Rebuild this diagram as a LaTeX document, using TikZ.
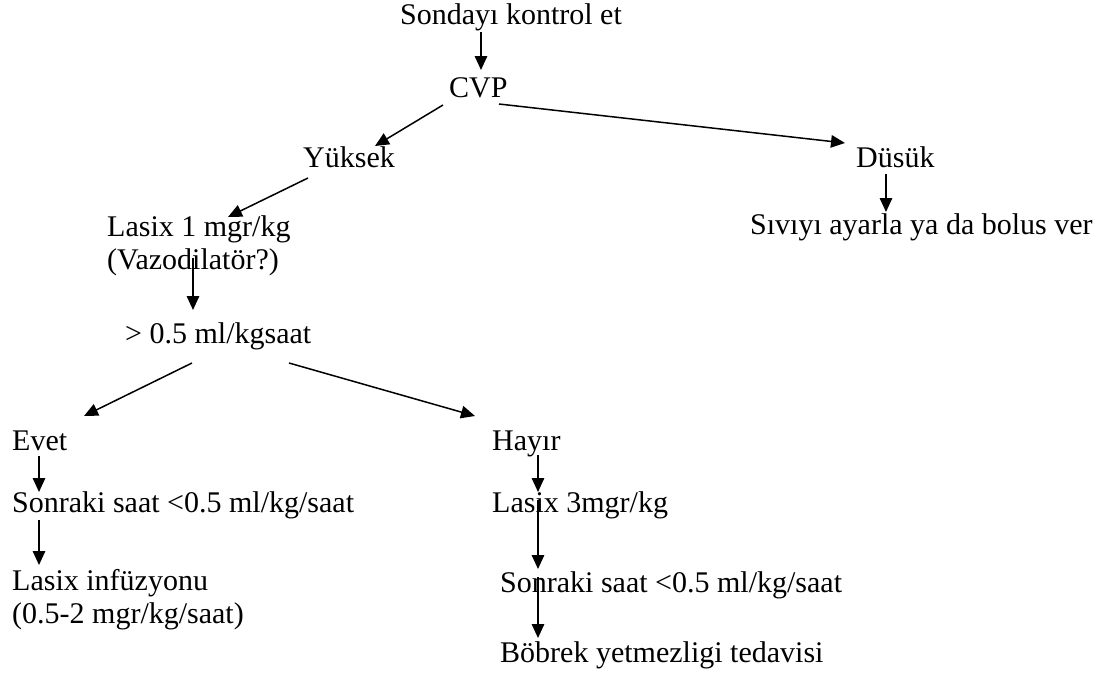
\documentclass[tikz,border=0pt]{standalone}
\usepackage{fontspec}
\setmainfont{Liberation Serif}
\usetikzlibrary{arrows.meta,calc}
\begin{document}
\begin{tikzpicture}[x=1pt,y=-1pt,
  lbl/.style={anchor=base west,inner sep=0pt,font=\fontsize{30}{33}\selectfont},
  arr/.style={line width=1.5pt,-{Triangle[length=14pt,width=12.5pt]}}]
\useasboundingbox (0,0) rectangle (1101,675);
% text blocks (left edge, baseline)
\node[lbl] (sonda)  at (400,24)  {Sondayı kontrol et};
\node[lbl] (cvp)    at (449,97)  {CVP};
\node[lbl] (yuksek) at (303,167) {Yüksek};
\node[lbl] (dusuk)  at (856,167) {Düsük};
\node[lbl] (sivi)   at (750,234) {Sıvıyı ayarla ya da bolus ver};
\node[lbl] (lasix1) at (107,236) {Lasix 1 mgr/kg};
\node[lbl] (vazo)   at (107,269) {(Vazodilatör?)};
\node[lbl] (gt)     at (125,343) {> 0.5 ml/kgsaat};
\node[lbl] (evet)   at (12,450)  {Evet};
\node[lbl] (sonL)   at (12,512)  {Sonraki saat <0.5 ml/kg/saat};
\node[lbl] (inf)    at (12,590)  {Lasix infüzyonu};
\node[lbl] (infdoz) at (12,623)  {(0.5-2 mgr/kg/saat)};
\node[lbl] (hayir)  at (492,450) {Hayır};
\node[lbl] (lasix3) at (492,512) {Lasix 3mgr/kg};
\node[lbl] (sonR)   at (500,592) {Sonraki saat <0.5 ml/kg/saat};
\node[lbl] (bobrek) at (500,662) {Böbrek yetmezligi tedavisi};
% connectors
\draw[arr] ($(sonda.base west)+(81,8)$)   -- ($(cvp.base west)+(32,-27)$);
\draw[arr] ($(cvp.base west)+(-6,8)$)     -- ($(yuksek.base west)+(72,-21)$);
\draw[arr] ($(cvp.base west)+(50,7)$)     -- ($(dusuk.base west)+(-11,-24)$);
\draw[arr] ($(dusuk.base west)+(30,7)$)   -- ($(sivi.base west)+(136,-22)$);
\draw[arr] ($(yuksek.base west)+(5,11)$)  -- ($(lasix1.base west)+(121,-19)$);
\draw[arr] ($(lasix1.base west)+(86,22)$) -- ($(gt.base west)+(68,-33)$);
\draw[arr] ($(gt.base west)+(67,20)$)     -- ($(evet.base west)+(72,-34)$);
\draw[arr] ($(gt.base west)+(164,20)$)    -- ($(hayir.base west)+(-17,-34)$);
\draw[arr] ($(evet.base west)+(27,6)$)    -- ($(sonL.base west)+(27,-20)$);
\draw[arr] ($(sonL.base west)+(27,8)$)    -- ($(inf.base west)+(27,-25)$);
\draw[arr] ($(hayir.base west)+(46,5)$)   -- ($(lasix3.base west)+(46,-20)$);
\draw[arr] ($(lasix3.base west)+(46,-12)$) -- ($(sonR.base west)+(38,-23)$);
\draw[arr] ($(sonR.base west)+(38,-15)$)  -- ($(bobrek.base west)+(38,-24)$);
\end{tikzpicture}
\end{document}
